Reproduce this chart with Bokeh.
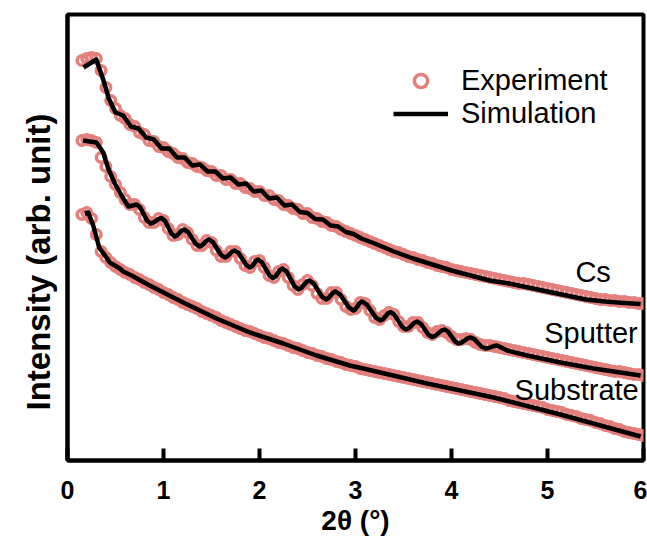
from bokeh.plotting import figure
from bokeh.models import Range1d, FixedTicker, Legend, LegendItem, Label, Title
from bokeh.embed import file_html
from bokeh.resources import INLINE

# ---------------- data ----------------
# measured 2-theta grid (deg)
two_theta_exp = [
    0.15, 0.20, 0.25, 0.30, 0.35, 0.40, 0.45, 0.50, 0.55, 0.60,
    0.65, 0.70, 0.75, 0.80, 0.85, 0.90, 0.95, 1.00, 1.05, 1.10,
    1.15, 1.20, 1.25, 1.30, 1.35, 1.40, 1.45, 1.50, 1.55, 1.60,
    1.65, 1.70, 1.75, 1.80, 1.85, 1.90, 1.95, 2.00, 2.05, 2.10,
    2.15, 2.20, 2.25, 2.30, 2.35, 2.40, 2.45, 2.50, 2.55, 2.60,
    2.65, 2.70, 2.75, 2.80, 2.85, 2.90, 2.95, 3.00, 3.05, 3.10,
    3.15, 3.20, 3.25, 3.30, 3.35, 3.40, 3.45, 3.50, 3.55, 3.60,
    3.65, 3.70, 3.75, 3.80, 3.85, 3.90, 3.95, 4.00, 4.05, 4.10,
    4.15, 4.20, 4.25, 4.30, 4.35, 4.40, 4.45, 4.50, 4.55, 4.60,
    4.65, 4.70, 4.75, 4.80, 4.85, 4.90, 4.95, 5.00, 5.05, 5.10,
    5.15, 5.20, 5.25, 5.30, 5.35, 5.40, 5.45, 5.50, 5.55, 5.60,
    5.65, 5.70, 5.75, 5.80, 5.85, 5.90, 5.95, 6.00,
]

cs_exp = [
    400, 402, 403, 402, 390, 373, 360, 352, 345, 342,
    336, 334, 328, 326, 320, 319, 314, 313, 309, 307,
    303, 302, 298, 297, 294, 293, 290, 289, 285, 285,
    281, 281, 277, 277, 273, 272, 269, 269, 265, 265,
    261, 260, 256, 255, 252, 251, 247, 247, 243, 242,
    239, 238, 235, 234, 231, 229, 227, 225, 223, 221,
    219, 217, 215, 213, 211, 209, 208, 206, 204, 203,
    201, 200, 198, 197, 195, 194, 193, 191, 190, 189,
    188, 187, 186, 185, 184, 183, 182, 181, 180, 179,
    178, 177, 177, 176, 175, 174, 173, 172, 171, 170,
    169, 168, 167, 166, 165, 164, 163, 162, 161, 161,
    160, 160, 159, 159, 158, 158, 157, 157,
]

sputter_exp = [
    320, 321, 320, 318, 303, 294, 284, 276, 268, 261,
    256, 256, 251, 243, 238, 238, 242, 240, 232, 225,
    226, 231, 228, 221, 215, 215, 220, 218, 210, 204,
    204, 209, 209, 202, 195, 193, 199, 200, 193, 185,
    183, 189, 191, 183, 175, 171, 176, 180, 175, 167,
    162, 162, 168, 168, 161, 154, 151, 152, 158, 157,
    150, 143, 141, 145, 148, 146, 139, 134, 134, 138,
    138, 133, 128, 126, 129, 130, 128, 124, 121, 121,
    122, 121, 118, 116, 115, 115, 114, 113, 112, 111,
    110, 109, 108, 107, 106, 105, 104, 103, 102, 101,
    100, 99, 98, 97, 96, 95, 94, 93, 92, 91,
    90, 89, 89, 88, 87, 86, 86, 85,
]

substrate_exp = [
    246, 248, 242, 226, 209, 203, 198, 194, 191, 188,
    186, 183, 181, 178, 176, 173, 171, 168, 166, 163,
    161, 158, 156, 154, 152, 149, 147, 145, 143, 140,
    138, 136, 134, 132, 130, 129, 127, 125, 123, 122,
    120, 118, 117, 115, 113, 112, 110, 108, 107, 105,
    104, 102, 101, 99, 98, 96, 95, 94, 92, 91,
    90, 89, 88, 87, 86, 85, 84, 83, 82, 81,
    80, 79, 78, 77, 76, 75, 74, 73, 72, 71,
    70, 69, 68, 67, 66, 65, 64, 63, 62, 60,
    59, 58, 57, 56, 55, 54, 53, 51, 50, 49,
    48, 46, 45, 44, 42, 41, 40, 38, 37, 35,
    34, 32, 31, 29, 28, 27, 26, 25,
]

cs_sim_x = [
    0.167, 0.30, 0.375, 0.43,
    0.50, 0.58, 0.66, 0.74, 0.82, 0.90, 0.98, 1.06, 1.14, 1.22,
    1.30, 1.38, 1.46, 1.54, 1.62, 1.70, 1.78, 1.86, 1.94, 2.02,
    2.10, 2.18, 2.26, 2.34, 2.42, 2.50, 2.58, 2.66, 2.74, 2.82,
    2.90, 2.98, 3.06,
    3.2, 3.4, 3.6, 3.8, 4.0, 4.2, 4.4, 4.6, 4.8, 5.0, 5.2, 5.4, 5.6, 5.8, 5.97,
]
cs_sim_y = [
    393, 401, 380, 362,
    348, 345, 334, 332, 323, 321, 312, 312, 303, 303,
    295, 296, 289, 289, 282, 283, 276, 277, 269, 270,
    262, 263, 255, 256, 248.5, 247.5, 241.5, 241, 235, 234,
    228.5, 226.5, 222,
    217, 209, 202, 196, 190, 185, 180, 177, 173, 169, 165, 161, 159, 157.5, 156.5,
]

sputter_sim_x = [
    0.163, 0.302, 0.372, 0.424, 0.493, 0.58, 0.635, 0.72,
    0.756, 0.829, 0.865, 0.894, 0.951, 0.98, 1.015, 1.084, 1.118, 1.142, 1.19, 1.214,
    1.255, 1.337, 1.378, 1.402, 1.45, 1.474, 1.515, 1.598, 1.639, 1.665, 1.717, 1.743,
    1.782, 1.861, 1.9, 1.922, 1.965, 1.986, 2.025, 2.102, 2.14, 2.165, 2.215, 2.24,
    2.282, 2.365, 2.406, 2.435, 2.492, 2.52, 2.563, 2.65, 2.693, 2.717, 2.766, 2.79,
    2.838, 2.933, 2.98, 3.002, 3.045, 3.066, 3.115, 3.212, 3.26, 3.286, 3.339, 3.365,
    3.405, 3.486, 3.526, 3.555, 3.614, 3.643, 3.682, 3.759, 3.797, 3.83, 3.895, 3.927,
    3.964, 4.037, 4.073, 4.104, 4.167, 4.198, 4.237, 4.315, 4.354, 4.385, 4.446, 4.476,
    4.58, 4.79, 5.135, 5.48, 5.97,
]
sputter_sim_y = [
    320, 318, 308, 292, 277, 262, 254, 256,
    253.2, 239.9, 237, 237.8, 241.7, 242.5, 239.7, 226.8, 224, 225.1, 230, 231,
    228.5, 216.6, 214, 215.1, 220, 221, 218.3, 205.7, 203, 204.1, 209, 210,
    207.5, 195.6, 193, 194.2, 199.8, 201, 198.2, 185.3, 182.5, 183.9, 190.6, 192,
    188.9, 174.2, 171, 172.4, 178.7, 180, 177.2, 163.9, 161, 162.2, 167.8, 169,
    166.2, 152.9, 150, 151.4, 157.7, 159, 156.2, 142.9, 140, 141.3, 147.2, 148.5,
    145.9, 133.6, 131, 132.2, 137.8, 139, 136.7, 125.8, 123.5, 124.6, 129.9, 131,
    128.9, 119.1, 117, 117.9, 122.1, 123, 121.4, 113.7, 112, 112.5, 114.6, 115,
    110, 105, 98, 92, 85,
]

substrate_sim_x = [
    0.18, 0.216, 0.268, 0.33, 0.406, 0.44, 0.545, 0.58, 0.667, 0.857,
    1.205, 1.552, 1.9, 2.247, 2.594, 2.94, 3.08, 3.747, 4.44, 5.135, 5.97,
]
substrate_sim_y = [
    247, 248, 235, 213, 203, 198, 192, 189, 185, 175,
    158, 142, 128, 117, 105, 95, 92, 77, 63, 46, 24,
]

x_ticks = [0, 1, 2, 3, 4, 5, 6]
curve_names = ["Cs", "Sputter", "Substrate"]
legend_names = ["Experiment", "Simulation"]
x_title = "2θ (°)"
y_title = "Intensity (arb. unit)"

# ---------------- styling ----------------
EXP_COLOR = "#E57F7B"
FONT = "Liberation Sans"

p = figure(width=647, height=546, output_backend="svg", toolbar_location=None,
           x_range=Range1d(0, 6), y_range=Range1d(0, 446),
           min_border_left=67, min_border_right=4, min_border_top=14,
           min_border_bottom=86)
p.grid.visible = False
p.background_fill_color = "white"
p.border_fill_color = "white"
p.outline_line_color = "black"
p.outline_line_width = 4

# x axis
xa = p.xaxis[0]
xa.ticker = FixedTicker(ticks=x_ticks)
xa.major_tick_in = 12
xa.major_tick_out = 0
xa.minor_tick_line_color = None
xa.major_tick_line_width = 4
xa.axis_line_width = 4
xa.major_label_text_font = FONT
xa.major_label_text_font_style = "bold"
xa.major_label_text_font_size = "25px"
xa.major_label_text_color = "black"
xa.major_label_standoff = 20
xa.axis_label = x_title
xa.axis_label_text_font = FONT
xa.axis_label_text_font_style = "bold"
xa.axis_label_text_font_size = "28px"
xa.axis_label_text_color = "black"
xa.axis_label_standoff = 3

# y axis
ya = p.yaxis[0]
ya.ticker = FixedTicker(ticks=[])
ya.major_tick_in = 0
ya.major_tick_out = 0
ya.minor_tick_line_color = None
ya.axis_line_width = 4

p.add_layout(Title(text=y_title, align="left", offset=50, standoff=21,
                   text_font=FONT, text_font_style="bold",
                   text_font_size="33px", text_color="black"), "left")

exp_r = []
for yv in (cs_exp, sputter_exp, substrate_exp):
    r = p.scatter(two_theta_exp, yv, marker="circle", size=9.5,
                  line_color=EXP_COLOR, line_width=3.5, fill_color=None)
    exp_r.append(r)

sim_r = []
for xs, ys in ((cs_sim_x, cs_sim_y), (sputter_sim_x, sputter_sim_y),
               (substrate_sim_x, substrate_sim_y)):
    r = p.line(xs, ys, line_color="black", line_width=4.5, line_join="round")
    sim_r.append(r)

# curve labels
label_pos = [(5.66, 189), (5.94, 128), (5.95, 71)]
for name, (lx, ly) in zip(curve_names, label_pos):
    p.add_layout(Label(x=lx, y=ly, text=name, text_align="right",
                       text_baseline="alphabetic", text_font=FONT,
                       text_font_size="29px", text_color="black"))

legend = Legend(items=[LegendItem(label=legend_names[0], renderers=[exp_r[0]]),
                       LegendItem(label=legend_names[1], renderers=[sim_r[0]])],
                location=(326, 330), orientation="vertical",
                glyph_width=55, glyph_height=33, spacing=0, padding=0, margin=0,
                label_standoff=13, label_text_font=FONT,
                label_text_font_size="29px", label_text_color="black",
                border_line_color=None, background_fill_alpha=0)
p.add_layout(legend)

open("out.html", "w").write(file_html(p, INLINE))
